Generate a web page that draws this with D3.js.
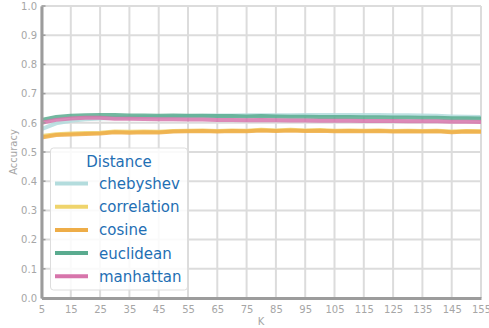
<!DOCTYPE html>
<html>
<head>
<meta charset="utf-8">
<script src="https://cdn.jsdelivr.net/npm/d3@7"></script>
<style>
  body { margin: 0; background: #fff; }
  text { font-family: "DejaVu Sans", sans-serif; }
</style>
</head>
<body>
<svg id="chart" width="489" height="328"></svg>
<script>
"use strict";
var kValues = [5,10,15,20,25,30,35,40,45,50,55,60,65,70,75,80,85,90,95,100,105,110,115,120,125,130,135,140,145,150,155];
var chebyshev = [0.578,0.598,0.607,0.612,0.615,0.617,0.618,0.620,0.621,0.622,0.623,0.624,0.625,0.625,0.626,0.626,0.626,0.626,0.627,0.627,0.627,0.627,0.627,0.627,0.626,0.626,0.625,0.624,0.622,0.621,0.620];
var correlation = [0.555,0.561,0.563,0.565,0.566,0.570,0.569,0.570,0.569,0.572,0.573,0.574,0.572,0.574,0.573,0.576,0.574,0.576,0.574,0.575,0.573,0.574,0.573,0.574,0.572,0.573,0.572,0.573,0.570,0.572,0.571];
var cosine = [0.550,0.558,0.560,0.562,0.563,0.568,0.566,0.568,0.567,0.570,0.571,0.572,0.570,0.572,0.571,0.574,0.572,0.574,0.572,0.573,0.571,0.572,0.571,0.572,0.570,0.571,0.570,0.571,0.568,0.570,0.569];
var euclidean = [0.610,0.620,0.624,0.626,0.627,0.627,0.625,0.625,0.624,0.625,0.624,0.624,0.623,0.623,0.622,0.623,0.622,0.621,0.621,0.620,0.620,0.620,0.619,0.619,0.618,0.618,0.617,0.617,0.616,0.616,0.615];
var manhattan = [0.600,0.610,0.615,0.617,0.617,0.614,0.614,0.613,0.612,0.612,0.611,0.611,0.610,0.610,0.609,0.610,0.609,0.608,0.608,0.607,0.607,0.607,0.606,0.606,0.606,0.605,0.605,0.605,0.604,0.604,0.603];
var seriesNames = ["chebyshev","correlation","cosine","euclidean","manhattan"];
var seriesColors = ["#b3dcdd","#efd46c","#eead48","#5aab8f","#d775ab"];
var seriesValues = [chebyshev, correlation, cosine, euclidean, manhattan];
var xTicks = d3.range(5, 156, 10);
var yTicks = d3.range(0, 1.01, 0.1);

var svg = d3.select("#chart");
var x = d3.scaleLinear().domain([5, 155]).range([41.5, 481]);
var y = d3.scaleLinear().domain([0, 1]).range([298, 6]);

// grid
svg.append("g").selectAll("line").data(xTicks).enter().append("line")
  .attr("x1", function (d) { return x(d); }).attr("x2", function (d) { return x(d); })
  .attr("y1", y(0)).attr("y2", y(1))
  .style("stroke", "#dcdcdc").style("stroke-width", 2);
svg.append("g").selectAll("line").data(yTicks).enter().append("line")
  .attr("x1", x(5)).attr("x2", x(155))
  .attr("y1", function (d) { return y(d); }).attr("y2", function (d) { return y(d); })
  .style("stroke", "#dcdcdc").style("stroke-width", 2);

// lines
var line = d3.line()
  .x(function (d, i) { return x(kValues[i]); })
  .y(function (d) { return y(d); })
  .curve(d3.curveLinear);
seriesValues.forEach(function (vals, i) {
  svg.append("path")
    .attr("d", line(vals))
    .style("fill", "none")
    .style("stroke", seriesColors[i])
    .style("stroke-width", 4)
    .style("stroke-opacity", 0.85)
    .style("stroke-linejoin", "round");
});

// axes
var xAxis = svg.append("g").attr("transform", "translate(0," + y(0) + ")")
  .call(d3.axisBottom(x).tickValues(xTicks).tickSize(0).tickPadding(7.5).tickFormat(d3.format("d")));
var yAxis = svg.append("g").attr("transform", "translate(" + x(5) + ",0)")
  .call(d3.axisLeft(y).tickValues(yTicks).tickSize(0).tickPadding(4.5).tickFormat(d3.format(".1f")));
[xAxis, yAxis].forEach(function (a) {
  a.select(".domain").style("stroke", "#9c9c9c").style("stroke-width", 3);
  a.selectAll("text").style("fill", "#a6a6a6").style("font-size", "10px");
});
// little inward tick marks on y axis
svg.append("g").selectAll("line").data(yTicks).enter().append("line")
  .attr("x1", x(5)).attr("x2", x(5) + 4)
  .attr("y1", function (d) { return y(d); }).attr("y2", function (d) { return y(d); })
  .style("stroke", "#9c9c9c").style("stroke-width", 1.5);

svg.append("text").attr("x", 261).attr("y", 325).attr("text-anchor", "middle")
  .style("fill", "#a6a6a6").style("font-size", "10px").text("K");
svg.append("text").attr("transform", "translate(17,152) rotate(-90)").attr("text-anchor", "middle")
  .style("fill", "#a6a6a6").style("font-size", "10px").text("Accuracy");

// legend
var legend = svg.append("g").attr("transform", "translate(50.5,148)");
legend.append("rect").attr("width", 137).attr("height", 142).attr("rx", 3)
  .style("fill", "#fff").style("fill-opacity", 0.85)
  .style("stroke", "#ddd").style("stroke-width", 1);
legend.append("text").attr("x", 68.5).attr("y", 19).attr("text-anchor", "middle")
  .style("fill", "#1f6fb4").style("font-size", "15px").text("Distance");
seriesNames.forEach(function (name, i) {
  var yy = 35.5 + i * 23.2;
  legend.append("line").attr("x1", 4.5).attr("x2", 37.5).attr("y1", yy).attr("y2", yy)
    .style("stroke", seriesColors[i]).style("stroke-width", 4);
  legend.append("text").attr("x", 48.5).attr("y", yy + 5.5)
    .style("fill", "#1f6fb4").style("font-size", "15px").text(name);
});
</script>
</body>
</html>
